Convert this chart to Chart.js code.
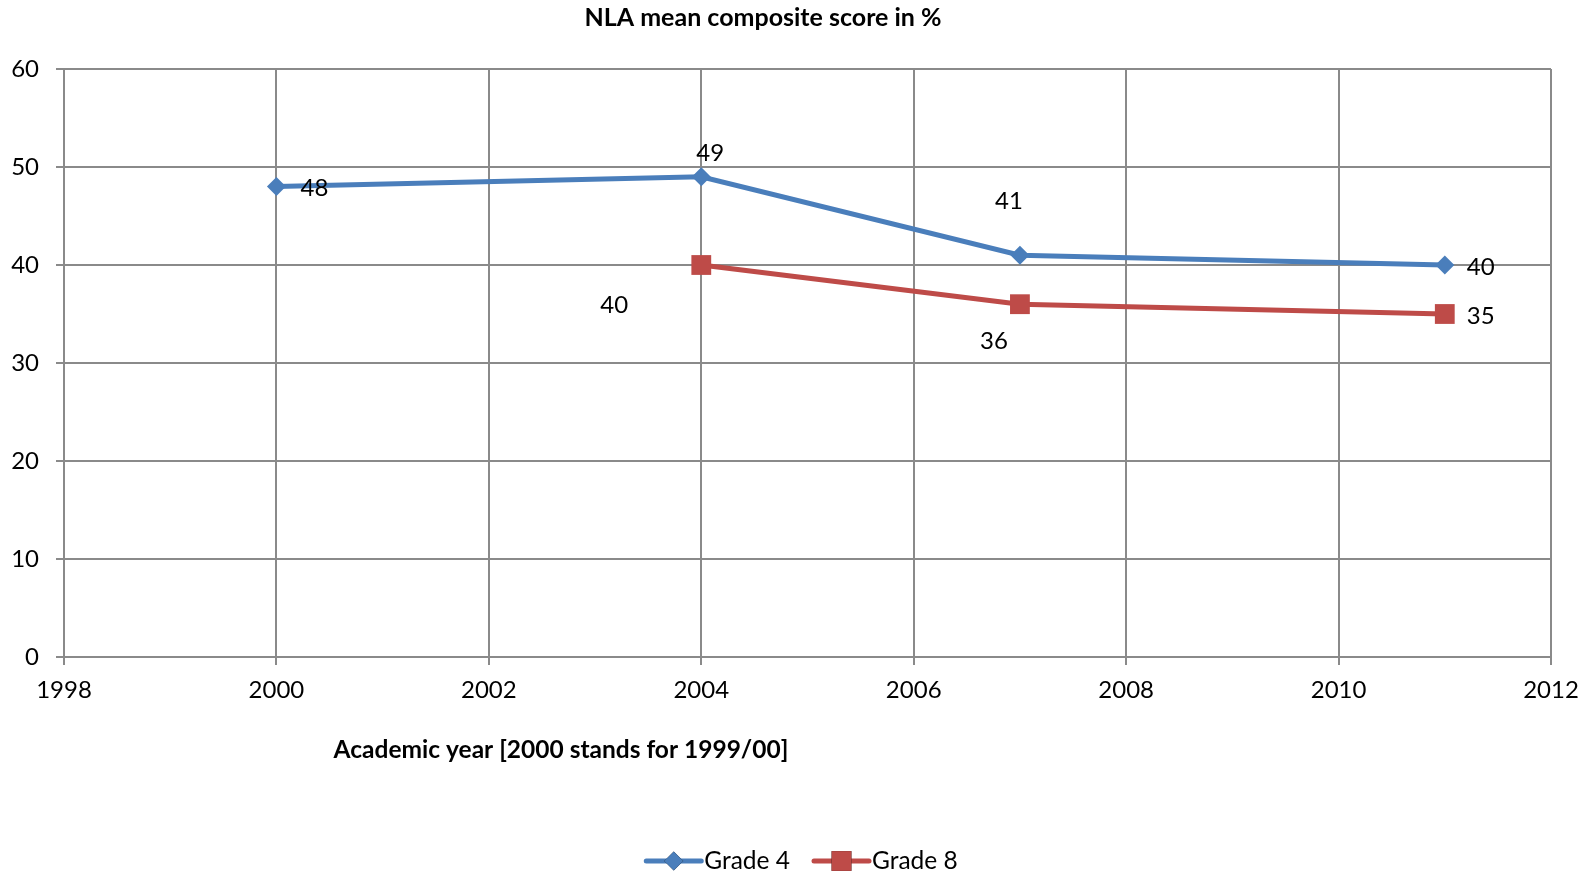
<!DOCTYPE html>
<html>
<head>
<meta charset="utf-8">
<script src="https://cdn.jsdelivr.net/npm/chart.js@4/dist/chart.umd.min.js"></script>
<style>
  html, body { margin: 0; padding: 0; background: #fff; }
  #wrap { width: 1591px; height: 875px; }
</style>
</head>
<body>
<div id="wrap"><canvas id="nlaChart" width="1591" height="875"></canvas></div>
<script>
// Datos del gráfico
const grade4Years = [2000, 2004, 2007, 2011];
const grade4Scores = [48, 49, 41, 40];
const grade8Years = [2004, 2007, 2011];
const grade8Scores = [40, 36, 35];
const seriesNames = ['Grade 4', 'Grade 8'];
const chartTitle = 'NLA mean composite score in %';
const xAxisTitle = 'Academic year [2000 stands for 1999/00]';

// Desplazamiento de las etiquetas de datos (estilo, colocadas a mano como en el original)
const grade4LabelOffsets = [[38, 2], [9, -24], [-11, -54], [36, 2]];
const grade8LabelOffsets = [[-87, 40], [-26, 37], [36, 2]];

const blue = '#4A7EBB';
const red = '#BE4B48';
const gridColor = '#8a8a8a';
const fontFamily = 'Lato, "Open Sans", sans-serif';

function toPoints(xs, ys) {
    return xs.map((x, i) => ({ x: x, y: ys[i] }));
}

// Título, etiquetas de datos, título del eje X y leyenda
const extrasPlugin = {
    id: 'extras',
    afterDatasetsDraw(chart) {
        const ctx = chart.ctx;
        ctx.save();
        ctx.fillStyle = '#000';
        ctx.textAlign = 'center';
        ctx.textBaseline = 'middle';

        // título
        ctx.font = 'bold 25px ' + fontFamily;
        ctx.fillText(chartTitle, 763, 18);

        ctx.font = '24px ' + fontFamily;
        const offsets = [grade4LabelOffsets, grade8LabelOffsets];
        chart.data.datasets.forEach((ds, di) => {
            const meta = chart.getDatasetMeta(di);
            meta.data.forEach((pt, i) => {
                const off = offsets[di][i];
                ctx.fillText(String(ds.data[i].y), pt.x + off[0], pt.y + off[1]);
            });
        });

        // título del eje X
        ctx.font = 'bold 24.5px ' + fontFamily;
        ctx.fillText(xAxisTitle, 561, 750);

        // leyenda
        ctx.font = '24.5px ' + fontFamily;
        ctx.textAlign = 'left';
        const lineLen = 55;
        const gapText = 3;
        const gapItems = 24;
        const widths = seriesNames.map(n => lineLen + gapText + ctx.measureText(n).width);
        const total = widths[0] + gapItems + widths[1];
        let x = 802 - total / 2;
        const y = 861;
        chart.data.datasets.forEach((ds, di) => {
            ctx.strokeStyle = ds.borderColor;
            ctx.lineWidth = 5;
            ctx.lineCap = 'round';
            ctx.beginPath();
            ctx.moveTo(x, y);
            ctx.lineTo(x + lineLen, y);
            ctx.stroke();
            Chart.helpers.drawPoint(ctx, {
                pointStyle: ds.pointStyle,
                radius: ds.pointRadius,
                borderWidth: 0
            }, x + lineLen / 2, y);
            ctx.fillStyle = ds.borderColor;
            ctx.fill();
            ctx.fillStyle = '#000';
            ctx.fillText(seriesNames[di], x + lineLen + gapText, y);
            x += widths[di] + gapItems;
        });
        ctx.restore();
    }
};

const ctx = document.getElementById('nlaChart').getContext('2d');
const nlaChart = new Chart(ctx, {
    type: 'line',
    data: {
        datasets: [
            {
                label: seriesNames[0],
                data: toPoints(grade4Years, grade4Scores),
                borderColor: blue,
                backgroundColor: blue,
                borderWidth: 5,
                pointStyle: 'rectRot',
                pointRadius: 9.5,
                pointHoverRadius: 9.5,
                pointBorderWidth: 0,
                tension: 0,
                fill: false
            },
            {
                label: seriesNames[1],
                data: toPoints(grade8Years, grade8Scores),
                borderColor: red,
                backgroundColor: red,
                borderWidth: 5,
                pointStyle: 'rect',
                pointRadius: 14,
                pointHoverRadius: 14,
                pointBorderWidth: 0,
                tension: 0,
                fill: false
            }
        ]
    },
    options: {
        responsive: false,
        animation: false,
        layout: { padding: { top: 69, right: 40, bottom: 0, left: 0 } },
        plugins: {
            legend: { display: false },
            tooltip: { enabled: false },
            title: { display: false }
        },
        scales: {
            x: {
                type: 'linear',
                min: 1998,
                max: 2012,
                afterFit: (scale) => { scale.height = 218; },
                ticks: {
                    stepSize: 2,
                    color: '#000',
                    padding: 11,
                    font: { family: fontFamily, size: 24 },
                    callback: (v) => String(v)
                },
                grid: { color: gridColor, lineWidth: 2, tickLength: 8 },
                border: { color: gridColor, width: 2 }
            },
            y: {
                min: 0,
                max: 60,
                afterFit: (scale) => { scale.width = 64; },
                ticks: {
                    stepSize: 10,
                    color: '#000',
                    padding: 17,
                    font: { family: fontFamily, size: 24 }
                },
                grid: { color: gridColor, lineWidth: 2, tickLength: 8 },
                border: { color: gridColor, width: 2 }
            }
        }
    },
    plugins: [extrasPlugin]
});
</script>
</body>
</html>
